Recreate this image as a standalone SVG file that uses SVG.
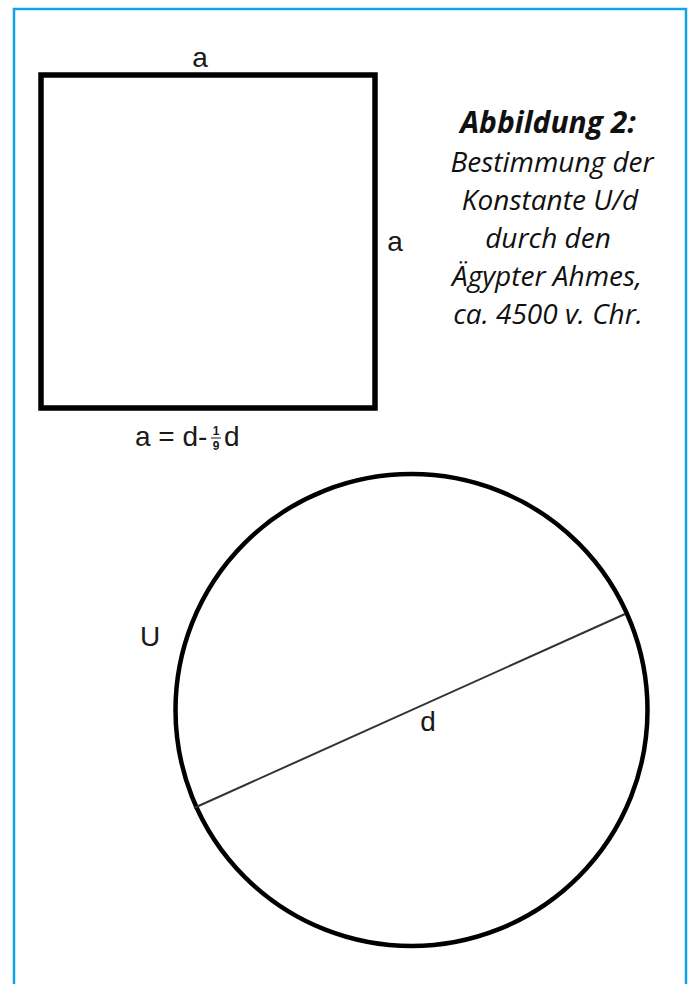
<svg xmlns="http://www.w3.org/2000/svg" width="693" height="984" viewBox="0 0 693 984">
<style>
.lbl{font-family:"Liberation Sans",Arial,sans-serif;font-size:28px;fill:#1a1a1a}
.frac{font-family:"Liberation Sans",Arial,sans-serif;font-size:12px;fill:#1a1a1a;text-anchor:middle;font-weight:bold}
.cap{font-family:"Open Sans","Noto Sans",sans-serif;font-style:italic;font-size:28px;fill:#111;text-anchor:middle}
.shape{fill:none;stroke:#000}
</style>
<rect width="693" height="984" fill="#fff"/>
<path d="M14 990 V9 H686 V990" fill="none" stroke="#12a3e6" stroke-width="2.5"/>
<g id="square">
<rect class="shape" x="41" y="75" width="334" height="333" stroke-width="5.5"/>
<text class="lbl" x="200" y="67" text-anchor="middle">a</text>
<text class="lbl" x="395" y="251" text-anchor="middle">a</text>
<text class="lbl" x="135" y="446">a = d-</text>
<text class="frac" x="216" y="435">1</text>
<line x1="211" y1="438" x2="221" y2="438" stroke="#1a1a1a" stroke-width="1"/>
<text class="frac" x="216" y="450">9</text>
<text class="lbl" x="224" y="446">d</text>
</g>
<g id="caption">
<text class="cap" x="548" y="133" font-weight="bold" style="font-size:30px">Abbildung 2:</text>
<text class="cap" x="552" y="172">Bestimmung der</text>
<text class="cap" x="550" y="210">Konstante U/d</text>
<text class="cap" x="548" y="248">durch den</text>
<text class="cap" x="547" y="286">Ägypter Ahmes,</text>
<text class="cap" x="548" y="324">ca. 4500 v. Chr.</text>
</g>
<g id="circle">
<circle class="shape" cx="411.5" cy="710" r="236" stroke-width="4.5"/>
<line x1="194" y1="808" x2="625" y2="614" stroke="#333" stroke-width="2"/>
<text class="lbl" x="140" y="646">U</text>
<text class="lbl" x="428" y="731" text-anchor="middle">d</text>
</g>
</svg>
